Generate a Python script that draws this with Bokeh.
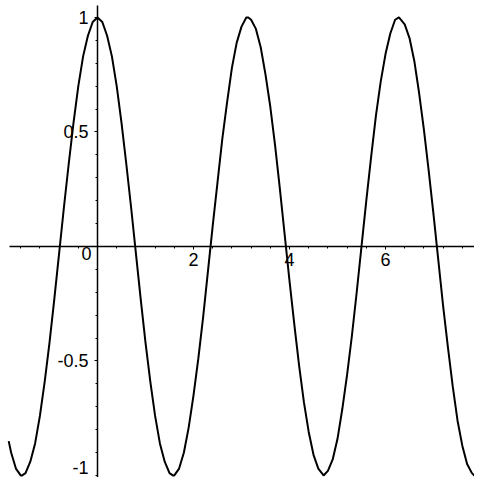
from bokeh.plotting import figure
from bokeh.models import Range1d, LinearAxis, FixedTicker
from bokeh.core.properties import value
from bokeh.embed import file_html
from bokeh.resources import INLINE

# curve points (x, y)
xs = [-1.85, -1.8, -1.7, -1.6, -1.57, -1.5, -1.4, -1.3, -1.2, -1.1, -1.0, -0.9, -0.8, -0.7,
      -0.6, -0.5, -0.4, -0.3, -0.2, -0.1, 0.0, 0.1, 0.2, 0.3, 0.4, 0.5, 0.6, 0.7, 0.8,
      0.9, 1.0, 1.1, 1.2, 1.3, 1.4, 1.5, 1.57, 1.6, 1.7, 1.8, 1.9, 2.0, 2.1, 2.2, 2.3,
      2.4, 2.5, 2.6, 2.7, 2.8, 2.9, 3.0, 3.1, 3.14, 3.2, 3.3, 3.4, 3.5, 3.6, 3.7, 3.8,
      3.9, 4.0, 4.1, 4.2, 4.3, 4.4, 4.5, 4.6, 4.71, 4.8, 4.9, 5.0, 5.1, 5.2, 5.3, 5.4,
      5.5, 5.6, 5.7, 5.8, 5.9, 6.0, 6.1, 6.2, 6.28, 6.4, 6.5, 6.6, 6.7, 6.8, 6.9, 7.0,
      7.1, 7.2, 7.3, 7.4, 7.5, 7.6, 7.7, 7.8, 7.85, 7.9, 8.0]
ys = [-0.85, -0.90, -0.97, -1.00, -1.00, -0.99, -0.94, -0.86, -0.74, -0.59, -0.42, -0.23, -0.03, 0.17,
      0.36, 0.54, 0.70, 0.83, 0.92, 0.98, 1.00, 0.98, 0.92, 0.83, 0.70, 0.54, 0.36, 0.17, -0.03,
      -0.23, -0.42, -0.59, -0.74, -0.86, -0.94, -0.99, -1.00, -1.00, -0.97, -0.90, -0.79, -0.65, -0.49, -0.31, -0.11,
      0.09, 0.28, 0.47, 0.63, 0.78, 0.89, 0.96, 1.00, 1.00, 0.99, 0.95, 0.87, 0.75, 0.61, 0.44, 0.25,
      0.05, -0.15, -0.34, -0.52, -0.68, -0.81, -0.91, -0.97, -1.00, -0.98, -0.93, -0.84, -0.71, -0.56, -0.39, -0.20,
      0.00, 0.20, 0.39, 0.57, 0.72, 0.84, 0.93, 0.99, 1.00, 0.97, 0.91, 0.81, 0.67, 0.51, 0.33, 0.14,
      -0.06, -0.26, -0.44, -0.61, -0.76, -0.87, -0.95, -0.99, -1.00, -1.00, -0.96]

x_ticks = [2, 4, 6, 8]
x_tick_labels = ["2", "4", "6", "8"]
x_minor = [-1.6, -1.2, -0.8, -0.4, 0.4, 0.8, 1.2, 1.6, 2.4, 2.8, 3.2, 3.6, 4.4, 4.8, 5.2, 5.6,
           6.4, 6.8, 7.2, 7.6]
y_ticks = [-1, -0.5, 0.5, 1]
y_tick_labels = ["-1", "-0.5", "0.5", "1"]
y_minor = [-0.9, -0.8, -0.7, -0.6, -0.4, -0.3, -0.2, -0.1, 0.1, 0.2, 0.3, 0.4, 0.6, 0.7, 0.8, 0.9]
origin_label = ["0"]

FONT = "Liberation Sans"

p = figure(width=474, height=477, output_backend="svg", toolbar_location=None,
           x_range=Range1d(-2.021, 7.854), y_range=Range1d(-1.009, 1.074),
           x_axis_type=None, y_axis_type=None, min_border=0)
p.grid.visible = False
p.outline_line_color = None
p.background_fill_color = "white"
p.border_fill_color = "white"

# the lowest y tick sits at the bottom edge: its label is drawn separately, nudged up
low_tick, low_label = y_ticks[0], y_tick_labels[0]
axis_y_ticks = y_ticks[1:]
axis_y_labels = y_tick_labels[1:]

xa = LinearAxis(fixed_location=0, bounds=(-1.83, 8.0),
                ticker=FixedTicker(ticks=x_ticks, minor_ticks=x_minor),
                major_label_overrides={t: l for t, l in zip(x_ticks, x_tick_labels)})
ya = LinearAxis(fixed_location=0, bounds=(-1.1, 1.05),
                ticker=FixedTicker(ticks=axis_y_ticks, minor_ticks=y_minor + [low_tick]),
                major_label_overrides={t: l for t, l in zip(axis_y_ticks, axis_y_labels)})
for ax in (xa, ya):
    ax.axis_line_color = "black"
    ax.axis_line_width = 1.5
    ax.major_tick_line_color = "black"
    ax.minor_tick_line_color = "black"
    ax.major_tick_in = 0
    ax.major_tick_out = 3
    ax.minor_tick_in = 0
    ax.minor_tick_out = 2
    ax.major_label_text_font = FONT
    ax.major_label_text_font_size = "18px"
    ax.major_label_text_color = "black"
xa.major_label_standoff = 4
ya.major_label_standoff = 6
p.add_layout(xa, "below")
p.add_layout(ya, "left")

p.line(xs, ys, line_color="black", line_width=2)

p.text(x=[0], y=[0], text=origin_label, x_offset=-11, y_offset=1,
       text_align="center", text_baseline="top",
       text_font=value(FONT), text_font_size="18px", text_color="black")
p.text(x=[0], y=[low_tick], text=[low_label], x_offset=-9, y_offset=-1,
       text_align="right", text_baseline="bottom",
       text_font=value(FONT), text_font_size="18px", text_color="black")

open("out.html", "w").write(file_html(p, INLINE))
